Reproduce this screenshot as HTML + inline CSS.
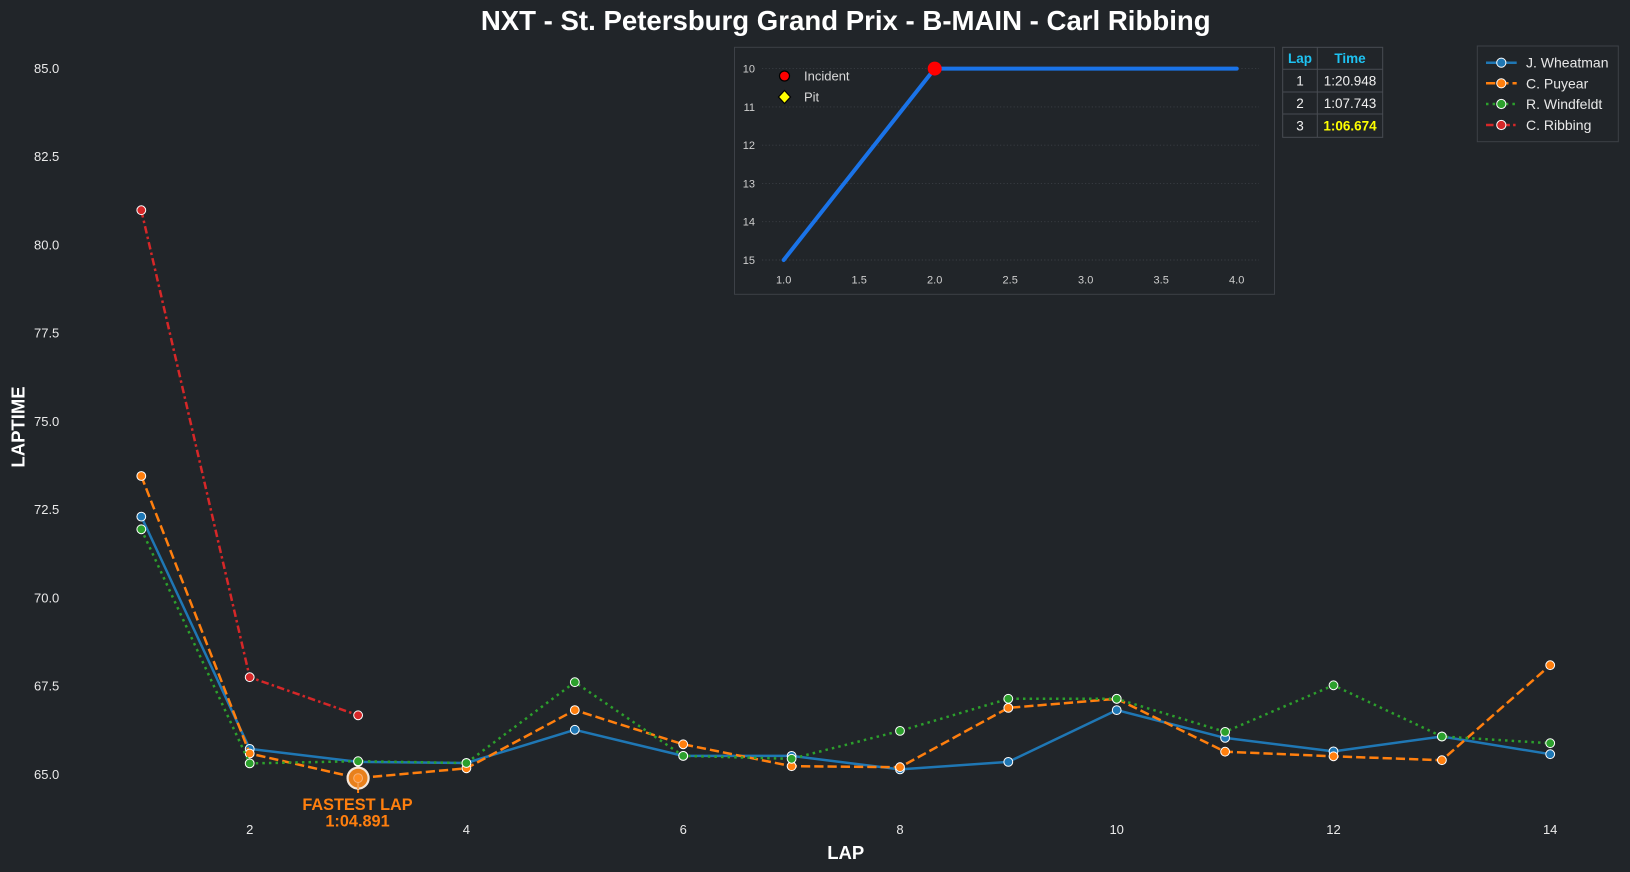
<!DOCTYPE html>
<html>
<head>
<meta charset="utf-8">
<style>
html,body{margin:0;padding:0;background:#212529;}
svg{display:block;}
text{font-family:"Liberation Sans",Arial,sans-serif;}
</style>
</head>
<body>
<svg width="1630" height="872" viewBox="0 0 1630 872" xmlns="http://www.w3.org/2000/svg">
<rect x="0" y="0" width="1630" height="872" fill="#212529"/>

<!-- Title -->
<text x="845.7" y="30" text-anchor="middle" font-size="27.6" font-weight="bold" fill="#ffffff">NXT - St. Petersburg Grand Prix - B-MAIN - Carl Ribbing</text>

<!-- Y tick labels -->
<g font-size="13" fill="#eaeaea" text-anchor="end">
<text x="59.3" y="779">65.0</text>
<text x="59.3" y="690.7">67.5</text>
<text x="59.3" y="602.5">70.0</text>
<text x="59.3" y="514.2">72.5</text>
<text x="59.3" y="426">75.0</text>
<text x="59.3" y="337.7">77.5</text>
<text x="59.3" y="249.5">80.0</text>
<text x="59.3" y="161.2">82.5</text>
<text x="59.3" y="73">85.0</text>
</g>

<!-- X tick labels -->
<g font-size="13" fill="#eaeaea" text-anchor="middle">
<text x="249.7" y="833.8">2</text>
<text x="466.4" y="833.8">4</text>
<text x="683.2" y="833.8">6</text>
<text x="900.0" y="833.8">8</text>
<text x="1116.7" y="833.8">10</text>
<text x="1333.5" y="833.8">12</text>
<text x="1550.2" y="833.8">14</text>
</g>

<!-- Axis labels -->
<text x="845.7" y="859" text-anchor="middle" font-size="18.5" font-weight="bold" fill="#ffffff">LAP</text>
<text transform="translate(24.5,427) rotate(-90)" text-anchor="middle" font-size="18.5" font-weight="bold" fill="#ffffff">LAPTIME</text>

<!-- Series: J. Wheatman -->
<polyline fill="none" stroke="#1f77b4" stroke-width="2.5" stroke-linejoin="round"
 points="141.3,516.6 249.7,748.9 358.1,761.9 466.4,763.0 574.8,729.8 683.2,755.9 791.6,755.9 900.0,769.4 1008.3,761.9 1116.7,710.1 1225.1,737.9 1333.5,751.4 1441.9,736.5 1550.2,754.2"/>
<g fill="#1f77b4" stroke="#ffffff" stroke-width="1">
<circle cx="141.3" cy="516.6" r="4.4"/><circle cx="249.7" cy="748.9" r="4.4"/><circle cx="358.1" cy="761.9" r="4.4"/><circle cx="466.4" cy="763.0" r="4.4"/><circle cx="574.8" cy="729.8" r="4.4"/><circle cx="683.2" cy="755.9" r="4.4"/><circle cx="791.6" cy="755.9" r="4.4"/><circle cx="900.0" cy="769.4" r="4.4"/><circle cx="1008.3" cy="761.9" r="4.4"/><circle cx="1116.7" cy="710.1" r="4.4"/><circle cx="1225.1" cy="737.9" r="4.4"/><circle cx="1333.5" cy="751.4" r="4.4"/><circle cx="1441.9" cy="736.5" r="4.4"/><circle cx="1550.2" cy="754.2" r="4.4"/>
</g>

<!-- Series: C. Puyear -->
<polyline fill="none" stroke="#ff7f0e" stroke-width="2.5" stroke-dasharray="9.25 4"
 points="141.3,476.0 249.7,753.5 358.1,778.1 466.4,768.3 574.8,710.1 683.2,744.3 791.6,766.2 900.0,767.2 1008.3,707.9 1116.7,698.8 1225.1,751.7 1333.5,756.3 1441.9,760.2 1550.2,665.2"/>
<g fill="#ff7f0e" stroke="#ffffff" stroke-width="1">
<circle cx="141.3" cy="476.0" r="4.4"/><circle cx="249.7" cy="753.5" r="4.4"/><circle cx="466.4" cy="768.3" r="4.4"/><circle cx="574.8" cy="710.1" r="4.4"/><circle cx="683.2" cy="744.3" r="4.4"/><circle cx="791.6" cy="766.2" r="4.4"/><circle cx="900.0" cy="767.2" r="4.4"/><circle cx="1008.3" cy="707.9" r="4.4"/><circle cx="1116.7" cy="698.8" r="4.4"/><circle cx="1225.1" cy="751.7" r="4.4"/><circle cx="1333.5" cy="756.3" r="4.4"/><circle cx="1441.9" cy="760.2" r="4.4"/><circle cx="1550.2" cy="665.2" r="4.4"/>
</g>

<!-- Series: R. Windfeldt -->
<polyline fill="none" stroke="#2ca02c" stroke-width="2.5" stroke-dasharray="2.5 4.1"
 points="141.3,529.3 249.7,763.4 358.1,761.2 466.4,763.0 574.8,682.2 683.2,755.9 791.6,758.8 900.0,730.9 1008.3,698.8 1116.7,698.8 1225.1,731.9 1333.5,685.3 1441.9,736.5 1550.2,743.2"/>
<g fill="#2ca02c" stroke="#ffffff" stroke-width="1">
<circle cx="141.3" cy="529.3" r="4.4"/><circle cx="249.7" cy="763.4" r="4.4"/><circle cx="358.1" cy="761.2" r="4.4"/><circle cx="466.4" cy="763.0" r="4.4"/><circle cx="574.8" cy="682.2" r="4.4"/><circle cx="683.2" cy="755.9" r="4.4"/><circle cx="791.6" cy="758.8" r="4.4"/><circle cx="900.0" cy="730.9" r="4.4"/><circle cx="1008.3" cy="698.8" r="4.4"/><circle cx="1116.7" cy="698.8" r="4.4"/><circle cx="1225.1" cy="731.9" r="4.4"/><circle cx="1333.5" cy="685.3" r="4.4"/><circle cx="1441.9" cy="736.5" r="4.4"/><circle cx="1550.2" cy="743.2" r="4.4"/>
</g>

<!-- Series: C. Ribbing -->
<polyline fill="none" stroke="#d62728" stroke-width="2.5" stroke-dasharray="7.5 3.2 2.5 3.2"
 points="141.3,210.2 249.7,677.2 358.1,715.3"/>
<g fill="#d62728" stroke="#ffffff" stroke-width="1">
<circle cx="141.3" cy="210.2" r="4.4"/><circle cx="249.7" cy="677.2" r="4.4"/><circle cx="358.1" cy="715.3" r="4.4"/>
</g>

<!-- Fastest lap marker -->
<line x1="358.1" y1="778" x2="358.1" y2="793" stroke="#ff7f0e" stroke-width="2"/>
<circle cx="358.1" cy="778.1" r="10.5" fill="#e8801c" stroke="#f3e6da" stroke-width="2.2"/>
<line x1="358.1" y1="778" x2="358.1" y2="789" stroke="#f59a45" stroke-width="2"/>
<circle cx="358.1" cy="778.1" r="4.4" fill="#ff8c20" stroke="#f7b27a" stroke-width="1"/>
<g font-size="16.3" font-weight="bold" fill="#ff7f0e" text-anchor="middle">
<text x="357.5" y="810">FASTEST LAP</text>
<text x="357.5" y="826.7">1:04.891</text>
</g>

<!-- Inset -->
<rect x="734.5" y="47.3" width="540" height="247" fill="#212529" stroke="#3d4147" stroke-width="1"/>
<g stroke="#3a3e44" stroke-width="0.9" stroke-dasharray="1.2 2.2">
<line x1="762" y1="68.6" x2="1259" y2="68.6"/>
<line x1="762" y1="106.9" x2="1259" y2="106.9"/>
<line x1="762" y1="145.2" x2="1259" y2="145.2"/>
<line x1="762" y1="183.4" x2="1259" y2="183.4"/>
<line x1="762" y1="221.7" x2="1259" y2="221.7"/>
<line x1="762" y1="260.0" x2="1259" y2="260.0"/>
</g>
<g font-size="11" fill="#cfcfcf" text-anchor="end">
<text x="755" y="72.5">10</text>
<text x="755" y="110.8">11</text>
<text x="755" y="149.1">12</text>
<text x="755" y="187.3">13</text>
<text x="755" y="225.6">14</text>
<text x="755" y="263.9">15</text>
</g>
<g font-size="11" fill="#cfcfcf" text-anchor="middle">
<text x="783.7" y="283.6">1.0</text>
<text x="859.2" y="283.6">1.5</text>
<text x="934.7" y="283.6">2.0</text>
<text x="1010.2" y="283.6">2.5</text>
<text x="1085.7" y="283.6">3.0</text>
<text x="1161.2" y="283.6">3.5</text>
<text x="1236.7" y="283.6">4.0</text>
</g>
<polyline fill="none" stroke="#1a73e8" stroke-width="4" stroke-linecap="round" stroke-linejoin="round"
 points="783.7,260 934.7,68.6 1236.7,68.6"/>
<circle cx="934.7" cy="68.6" r="7" fill="#ff0000"/>
<circle cx="784.5" cy="76" r="5" fill="#ff0000" stroke="#000000" stroke-width="1.2"/>
<polygon points="784.5,90.5 790.5,97 784.5,103.5 778.5,97" fill="#ffff00" stroke="#000000" stroke-width="1.2"/>
<g font-size="13" fill="#d8d8d8">
<text x="804" y="80.6">Incident</text>
<text x="804" y="101.6">Pit</text>
</g>

<!-- Table -->
<g stroke="#484c52" stroke-width="1" fill="none">
<rect x="1282.7" y="47.3" width="100" height="90"/>
<line x1="1317.3" y1="47.3" x2="1317.3" y2="137.3"/>
<line x1="1282.7" y1="69.3" x2="1382.7" y2="69.3"/>
<line x1="1282.7" y1="92" x2="1382.7" y2="92"/>
<line x1="1282.7" y1="114" x2="1382.7" y2="114"/>
</g>
<g font-size="13.5" text-anchor="middle">
<text x="1300" y="63" fill="#1ec3f2" font-weight="bold">Lap</text>
<text x="1350" y="63" fill="#1ec3f2" font-weight="bold">Time</text>
<text x="1300" y="85.5" fill="#f0f0f0">1</text>
<text x="1350" y="85.5" fill="#f0f0f0">1:20.948</text>
<text x="1300" y="108" fill="#f0f0f0">2</text>
<text x="1350" y="108" fill="#f0f0f0">1:07.743</text>
<text x="1300" y="130.5" fill="#f0f0f0">3</text>
<text x="1350" y="130.5" fill="#ffff00" font-weight="bold">1:06.674</text>
</g>

<!-- Legend -->
<rect x="1477.3" y="46" width="141" height="95.7" fill="#212529" stroke="#3d4147" stroke-width="1"/>
<line x1="1486" y1="62.7" x2="1516.7" y2="62.7" stroke="#1f77b4" stroke-width="2.5"/>
<circle cx="1501.3" cy="62.7" r="4.6" fill="#1f77b4" stroke="#ffffff" stroke-width="1"/>
<line x1="1486" y1="83.3" x2="1516.7" y2="83.3" stroke="#ff7f0e" stroke-width="2.5" stroke-dasharray="9.25 4"/>
<circle cx="1501.3" cy="83.3" r="4.6" fill="#ff7f0e" stroke="#ffffff" stroke-width="1"/>
<line x1="1486" y1="104" x2="1516.7" y2="104" stroke="#2ca02c" stroke-width="2.5" stroke-dasharray="2.5 4.1"/>
<circle cx="1501.3" cy="104" r="4.6" fill="#2ca02c" stroke="#ffffff" stroke-width="1"/>
<line x1="1486" y1="125" x2="1516.7" y2="125" stroke="#d62728" stroke-width="2.5" stroke-dasharray="7.5 3.2 2.5 3.2"/>
<circle cx="1501.3" cy="125" r="4.6" fill="#d62728" stroke="#ffffff" stroke-width="1"/>
<g font-size="14" fill="#e8e8e8">
<text x="1526" y="67.7">J. Wheatman</text>
<text x="1526" y="88.3">C. Puyear</text>
<text x="1526" y="109">R. Windfeldt</text>
<text x="1526" y="130">C. Ribbing</text>
</g>
</svg>
</body>
</html>
